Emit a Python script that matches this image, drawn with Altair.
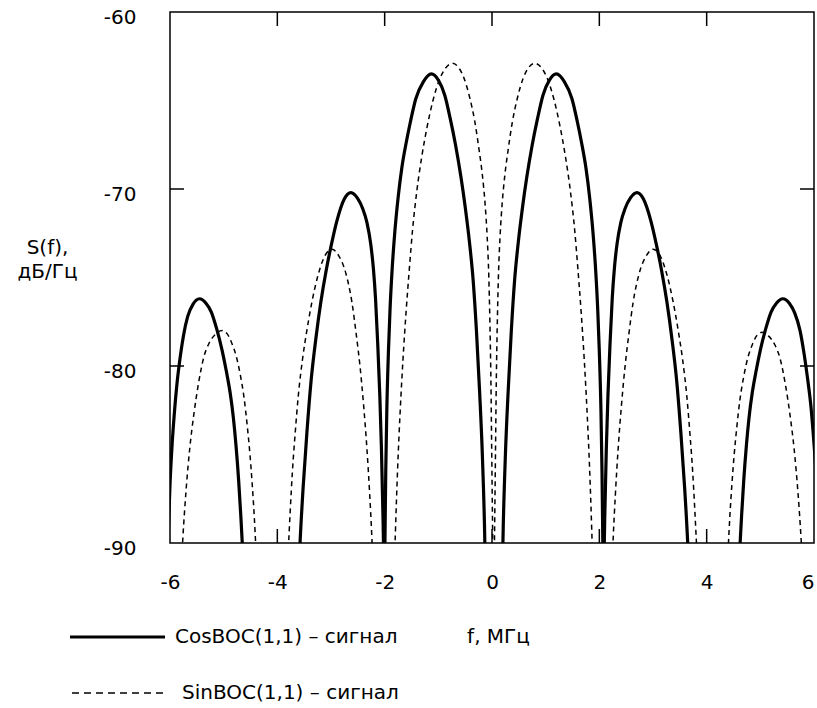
import altair as alt
import pandas as pd

# ---------------- data ----------------
# CosBOC(1,1): one array pair per lobe (values below -90 are clipped)
cos_l3_f = [-6.03, -6.0, -5.96, -5.92, -5.87, -5.81, -5.75, -5.67, -5.57, -5.45, -5.33, -5.23, -5.13, -5.03, -4.95, -4.88, -4.82, -4.77, -4.72, -4.68, -4.65, -4.62]
cos_l3_s = [-89.2, -86.7, -84.4, -82.7, -81.0, -79.5, -78.3, -77.2, -76.5, -76.2, -76.45, -76.95, -77.9, -79.1, -80.3, -81.5, -82.9, -84.5, -86.5, -88.5, -90.2, -92.2]
cos_l2_f = [-3.62, -3.58, -3.52, -3.45, -3.37, -3.28, -3.19, -3.09, -2.99, -2.89, -2.75, -2.63, -2.51, -2.41, -2.33, -2.26, -2.21, -2.17, -2.13, -2.09, -2.06, -2.03, -2.01]
cos_l2_s = [-93.2, -90.2, -86.9, -83.8, -80.8, -78.4, -76.4, -74.6, -73.1, -71.8, -70.55, -70.2, -70.5, -71.1, -71.9, -73.1, -74.5, -76.2, -78.7, -81.7, -84.7, -88.7, -92.2]
cos_l1_f = [-2.005, -1.995, -1.98, -1.96, -1.93, -1.90, -1.86, -1.81, -1.75, -1.68, -1.60, -1.52, -1.42, -1.28, -1.13, -1.0, -0.88, -0.78, -0.68, -0.58, -0.5, -0.42, -0.35, -0.29, -0.23, -0.18, -0.14, -0.12]
cos_l1_s = [-92.5, -90.0, -86.0, -82.5, -79.2, -76.8, -74.5, -72.4, -70.5, -68.8, -67.4, -66.2, -64.9, -63.95, -63.5, -63.85, -64.7, -66.0, -67.5, -69.3, -71.0, -73.0, -75.2, -78.0, -81.5, -85.0, -89.0, -92.0]
cos_r1_f = [0.19, 0.21, 0.25, 0.30, 0.36, 0.42, 0.49, 0.57, 0.65, 0.75, 0.85, 0.95, 1.07, 1.2, 1.35, 1.49, 1.59, 1.67, 1.75, 1.82, 1.88, 1.93, 1.97, 2.0, 2.03, 2.05, 2.065, 2.075]
cos_r1_s = [-92.0, -89.0, -85.0, -81.5, -78.0, -75.2, -73.0, -71.0, -69.3, -67.5, -66.0, -64.7, -63.85, -63.5, -63.95, -64.9, -66.2, -67.4, -68.8, -70.5, -72.4, -74.5, -76.8, -79.2, -82.5, -86.0, -90.0, -92.5]
cos_r2_f = [2.08, 2.10, 2.13, 2.16, 2.20, 2.24, 2.28, 2.33, 2.40, 2.48, 2.58, 2.7, 2.82, 2.96, 3.06, 3.16, 3.26, 3.35, 3.44, 3.52, 3.59, 3.65, 3.69]
cos_r2_s = [-92.2, -88.7, -84.7, -81.7, -78.7, -76.2, -74.5, -73.1, -71.9, -71.1, -70.5, -70.2, -70.55, -71.8, -73.1, -74.6, -76.4, -78.4, -80.8, -83.8, -86.9, -90.2, -93.2]
cos_r3_f = [4.59, 4.62, 4.65, 4.69, 4.74, 4.79, 4.85, 4.92, 5.0, 5.1, 5.2, 5.3, 5.42, 5.54, 5.64, 5.74, 5.82, 5.88, 5.94, 5.98, 6.02, 6.07, 6.12]
cos_r3_s = [-92.2, -90.2, -88.5, -86.5, -84.5, -82.9, -81.5, -80.3, -79.1, -77.9, -76.95, -76.45, -76.2, -76.45, -77.0, -78.0, -79.4, -80.7, -82.2, -83.6, -85.2, -87.7, -90.7]

# SinBOC(1,1)
sin_l3_f = [-5.80, -5.76, -5.70, -5.63, -5.55, -5.47, -5.37, -5.27, -5.15, -5.03, -4.93, -4.85, -4.77, -4.69, -4.62, -4.56, -4.51, -4.47, -4.43, -4.40, -4.37]
sin_l3_s = [-92.0, -89.7, -87.0, -84.6, -82.6, -81.0, -79.5, -78.7, -78.2, -78.0, -78.2, -78.7, -79.4, -80.5, -81.8, -83.4, -85.0, -86.6, -88.5, -90.3, -92.5]
sin_l2_f = [-3.83, -3.80, -3.76, -3.72, -3.67, -3.61, -3.53, -3.45, -3.35, -3.24, -3.10, -2.98, -2.86, -2.72, -2.61, -2.53, -2.46, -2.39, -2.33, -2.28, -2.24, -2.21]
sin_l2_s = [-92.9, -90.7, -88.2, -86.0, -83.9, -81.7, -79.6, -78.0, -76.3, -74.85, -73.7, -73.4, -73.75, -74.8, -76.4, -78.2, -80.0, -82.3, -84.7, -87.2, -89.6, -91.9]
sin_l1_f = [-1.83, -1.80, -1.76, -1.71, -1.66, -1.60, -1.54, -1.48, -1.40, -1.31, -1.21, -1.10, -0.97, -0.86, -0.74, -0.62, -0.52, -0.41, -0.32, -0.24, -0.18, -0.13, -0.09, -0.06, -0.04, -0.02, -0.005, 0.01, 0.025]
sin_l1_s = [-92.4, -89.4, -85.9, -82.5, -79.7, -76.9, -74.5, -72.3, -70.1, -68.2, -66.5, -65.0, -63.75, -63.15, -62.9, -63.15, -63.75, -64.9, -66.2, -67.8, -69.2, -70.8, -72.7, -74.9, -77.4, -80.9, -84.9, -88.9, -92.9]
sin_r1_f = [0.035, 0.05, 0.065, 0.08, 0.10, 0.12, 0.15, 0.19, 0.24, 0.30, 0.38, 0.47, 0.58, 0.68, 0.8, 0.92, 1.03, 1.16, 1.27, 1.37, 1.46, 1.54, 1.60, 1.66, 1.72, 1.77, 1.82, 1.86, 1.89]
sin_r1_s = [-92.9, -88.9, -84.9, -80.9, -77.4, -74.9, -72.7, -70.8, -69.2, -67.8, -66.2, -64.9, -63.75, -63.15, -62.9, -63.15, -63.75, -65.0, -66.5, -68.2, -70.1, -72.3, -74.5, -76.9, -79.7, -82.5, -85.9, -89.4, -92.4]
sin_r2_f = [2.23, 2.26, 2.30, 2.35, 2.41, 2.48, 2.55, 2.63, 2.74, 2.88, 3.0, 3.12, 3.26, 3.37, 3.47, 3.55, 3.63, 3.69, 3.74, 3.78, 3.82, 3.85]
sin_r2_s = [-91.9, -89.6, -87.2, -84.7, -82.3, -80.0, -78.2, -76.4, -74.8, -73.75, -73.4, -73.7, -74.85, -76.3, -78.0, -79.6, -81.7, -83.9, -86.0, -88.2, -90.7, -92.9]
sin_r3_f = [4.37, 4.40, 4.43, 4.47, 4.51, 4.56, 4.62, 4.69, 4.77, 4.85, 4.93, 5.03, 5.15, 5.27, 5.37, 5.47, 5.55, 5.63, 5.70, 5.76, 5.80]
sin_r3_s = [-92.6, -90.4, -88.6, -86.7, -85.1, -83.5, -81.9, -80.6, -79.5, -78.8, -78.3, -78.1, -78.3, -78.8, -79.6, -81.1, -82.7, -84.7, -87.1, -89.8, -92.1]

x_ticks = [-6, -4, -2, 0, 2, 4, 6]
y_ticks = [-90, -80, -70, -60]
x_inner_ticks = [-4, -2, 0, 2, 4]
y_inner_ticks = [-80, -70]

legend_labels = ["CosBOC(1,1) \u2013 сигнал", "SinBOC(1,1) \u2013 сигнал"]
x_title = "f, МГц"
y_title = ["S(f),", "дБ/Гц"]

FONT = "DejaVu Sans"
W, H = 644, 531

# plain hyphen as the minus sign, as in the reference
LABEL_EXPR = "datum.value < 0 ? '-' + abs(datum.value) : '' + datum.value"


def lobes(pairs):
    rows = []
    for k, (fs, ss) in enumerate(pairs):
        for i, (f, s) in enumerate(zip(fs, ss)):
            rows.append({"lobe": k, "i": i, "f": f, "s": s})
    return pd.DataFrame(rows)


df_cos = lobes([(cos_l3_f, cos_l3_s), (cos_l2_f, cos_l2_s), (cos_l1_f, cos_l1_s),
                (cos_r1_f, cos_r1_s), (cos_r2_f, cos_r2_s), (cos_r3_f, cos_r3_s)])
df_sin = lobes([(sin_l3_f, sin_l3_s), (sin_l2_f, sin_l2_s), (sin_l1_f, sin_l1_s),
                (sin_r1_f, sin_r1_s), (sin_r2_f, sin_r2_s), (sin_r3_f, sin_r3_s)])

xscale = alt.Scale(domain=[-6, 6], nice=False, zero=False)
yscale = alt.Scale(domain=[-90, -60], nice=False, zero=False)

X = alt.X("f:Q", scale=xscale, axis=alt.Axis(
    values=x_ticks, ticks=False, domain=False, grid=False,
    labelExpr=LABEL_EXPR,
    labelAlign={"condition": {"test": "datum.value >= 6", "value": "right"}, "value": "center"},
    labelFont=FONT, labelFontSize=20, labelColor="black", labelPadding=29,
    labelFlush=False, labelBound=False, labelOverlap=False,
    title=x_title, titleFont=FONT, titleFontSize=20, titleFontWeight="normal",
    titleColor="black", titleX=328, titleY=93, titleAlign="center",
    titleBaseline="middle", titleAnchor="start"))
Y = alt.Y("s:Q", scale=yscale, axis=alt.Axis(
    values=y_ticks, ticks=False, domain=False, grid=False,
    labelExpr=LABEL_EXPR,
    labelFont=FONT, labelFontSize=20, labelColor="black", labelPadding=34,
    labelOffset=5, labelFlush=False, labelBound=False, labelOverlap=False,
    title=y_title, titleFont=FONT, titleFontSize=20, titleFontWeight="normal",
    titleColor="black", titleAngle=0, titleX=-123, titleY=235,
    titleAlign="center", titleBaseline="middle", titleLineHeight=24,
    titleAnchor="start"))

cos_line = alt.Chart(df_cos).mark_line(
    color="black", strokeWidth=3.2, clip=True, interpolate="monotone"
).encode(x=X, y=Y, detail="lobe:N", order="i:Q")

sin_line = alt.Chart(df_sin).mark_line(
    color="black", strokeWidth=1.5, strokeDash=[5, 4], clip=True, interpolate="monotone"
).encode(x=X, y=Y, detail="lobe:N", order="i:Q")

# inward ticks on the frame (same scales and axes as the curves)
df_xt = pd.DataFrame({"f": x_inner_ticks})
df_yt = pd.DataFrame({"s": y_inner_ticks})
tick_top = alt.Chart(df_xt).mark_rule(color="black", strokeWidth=1.5).encode(
    x=X, y=alt.value(0), y2=alt.value(14))
tick_bot = alt.Chart(df_xt).mark_rule(color="black", strokeWidth=1.5).encode(
    x=X, y=alt.value(H - 14), y2=alt.value(H))
tick_left = alt.Chart(df_yt).mark_rule(color="black", strokeWidth=1.5).encode(
    y=Y, x=alt.value(0), x2=alt.value(14))
tick_right = alt.Chart(df_yt).mark_rule(color="black", strokeWidth=1.5).encode(
    y=Y, x=alt.value(W - 14), x2=alt.value(W))

# legend (below the plot)
df_l1 = pd.DataFrame({"t": [legend_labels[0]]})
df_l2 = pd.DataFrame({"t": [legend_labels[1]]})
leg_line1 = alt.Chart(df_l1).mark_rule(color="black", strokeWidth=3).encode(
    x=alt.value(-100), x2=alt.value(-5), y=alt.value(625))
leg_text1 = alt.Chart(df_l1).mark_text(
    align="left", baseline="middle", font=FONT, fontSize=20, color="black"
).encode(text="t:N", x=alt.value(5), y=alt.value(625))
leg_line2 = alt.Chart(df_l2).mark_rule(color="black", strokeWidth=1.5, strokeDash=[7, 5]).encode(
    x=alt.value(-98), x2=alt.value(-5), y=alt.value(681))
leg_text2 = alt.Chart(df_l2).mark_text(
    align="left", baseline="middle", font=FONT, fontSize=20, color="black"
).encode(text="t:N", x=alt.value(12), y=alt.value(681))

chart = alt.layer(
    cos_line, sin_line, tick_top, tick_bot, tick_left, tick_right,
    leg_line1, leg_text1, leg_line2, leg_text2
).properties(
    width=W, height=H,
    padding={"left": 170, "top": 12, "right": 3, "bottom": 165},
    autosize=alt.AutoSizeParams(type="none"),
    background="white",
).configure_view(stroke="black", strokeWidth=1.5)

chart.save("out.html", embed_options={"renderer": "svg", "actions": False})
